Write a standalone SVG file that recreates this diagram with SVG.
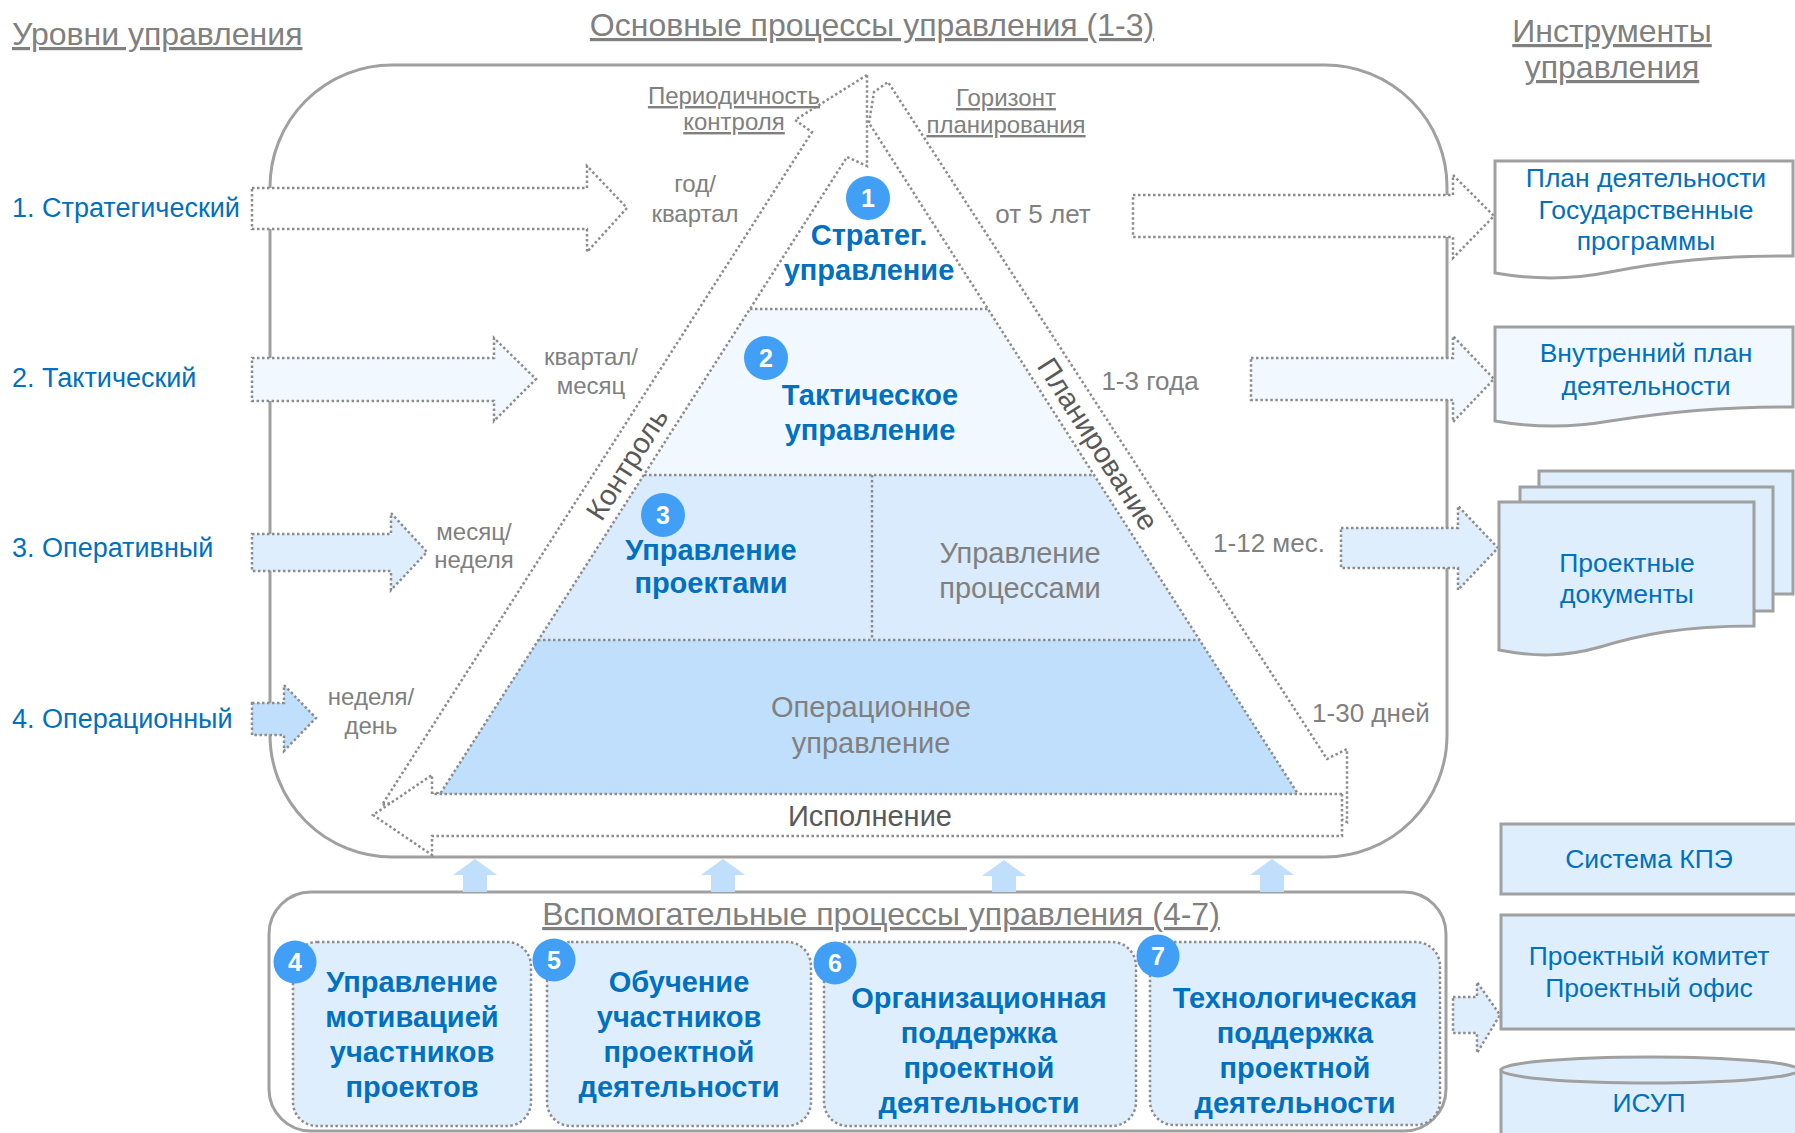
<svg xmlns="http://www.w3.org/2000/svg" width="1795" height="1133" viewBox="0 0 1795 1133">
<style>
  text{font-family:"Liberation Sans",Arial,sans-serif}
  .title{font-size:32px;fill:#808080;text-decoration:underline}
  .sub{font-size:24px;fill:#808080;text-anchor:middle;text-decoration:underline}
  .lvl{font-size:27px;fill:#0070c0}
  .per{font-size:24px;fill:#808080;text-anchor:middle}
  .dur{font-size:26px;fill:#808080;text-anchor:middle}
  .bb{font-size:29px;font-weight:bold;fill:#0070c0;text-anchor:middle}
  .gr{font-size:29px;fill:#808080;text-anchor:middle}
  .dk{font-size:29px;fill:#595959;text-anchor:middle}
  .blue{font-size:26.5px;fill:#0070c0;text-anchor:middle}
  .num{font-size:25px;font-weight:bold;fill:#ffffff;text-anchor:middle}
  .dot{stroke:#8c8c8c;stroke-width:2.5;stroke-dasharray:2.5 2.5}
  .frame{fill:none;stroke:#a0a0a0;stroke-width:3}
  .doc{stroke:#a0a0a0;stroke-width:3}
  .badge{fill:#41a0f5}
  .up{fill:#bfdffc}
  .w{fill:#ffffff}
  .c1{fill:#f2f8ff}
  .c2{fill:#deeefd}
  .c3{fill:#c0dffc}
</style>

<!-- outer frames -->
<g id="main-frame"><rect class="frame" x="270" y="65" width="1177" height="792" rx="122"/></g>
<g id="aux-frame"><rect class="frame" x="269" y="892" width="1177" height="239" rx="42"/></g>

<!-- pyramid -->
<g id="pyramid">
  <polygon class="w" points="869,123 988,309 750,309"/>
  <polygon class="c1" points="750,309 988,309 1094,475 644,475"/>
  <polygon fill="#d9ebfd" points="644,475 1094,475 1200,640 538,640"/>
  <polygon class="c3" points="538,640 1200,640 1298,794 440,794"/>
  <line class="dot" x1="750" y1="309" x2="988" y2="309"/>
  <line class="dot" x1="644" y1="475" x2="1094" y2="475"/>
  <line class="dot" x1="538" y1="640" x2="1200" y2="640"/>
  <line class="dot" x1="872" y1="475" x2="872" y2="640"/>
</g>

<!-- cycle arrows around the pyramid -->
<g id="connectors">
  <polygon id="control-arrow" class="w dot" points="867,75 795,120 812,132 382,805 437,793 440,794 847,157 867,166"/>
  <polygon id="planning-arrow" class="w dot" points="869,123 874,92 888,82 1327,759 1347,749 1347,822 1305,802 1298,794"/>
  <polygon id="execution-arrow" class="w dot" points="1342,794 432,794 432,775 373,815 432,855 432,836 1342,836"/>

  <!-- level arrows (left) -->
  <polygon class="w dot" points="252,188 587,188 587,166 627,208 587,252 587,229 252,229"/>
  <polygon class="c1 dot" points="252,358 494,358 494,338 536,379 494,421 494,401 252,401"/>
  <polygon class="c2 dot" points="252,534 391,534 391,513 427,552 391,590 391,571 252,571"/>
  <polygon class="c3 dot" points="252,703 284,703 284,685 316,718 284,751 284,735 252,735"/>

  <!-- tool arrows (right) -->
  <polygon class="w dot" points="1133,195 1453,195 1453,175 1494,216 1453,258 1453,237 1133,237"/>
  <polygon class="c1 dot" points="1251,358 1453,358 1453,336 1494,379 1453,422 1453,400 1251,400"/>
  <polygon class="c2 dot" points="1341,528 1458,528 1458,506 1498,548 1458,590 1458,568 1341,568"/>
  <polygon class="c2 dot" points="1453,997 1477,997 1477,982 1500,1015 1477,1053 1477,1033 1453,1033"/>

  <!-- support arrows (up) -->
  <polygon class="up" points="475,859 497,875 487,875 487,892 463,892 463,875 453,875"/>
  <polygon class="up" points="723,859 745,875 735,875 735,892 711,892 711,875 701,875"/>
  <polygon class="up" points="1004,860 1026,876 1016,876 1016,892 992,892 992,876 982,876"/>
  <polygon class="up" points="1272,859 1294,875 1284,875 1284,892 1260,892 1260,875 1250,875"/>
</g>

<!-- titles -->
<g id="titles">
  <text class="title" x="12" y="45">Уровни управления</text>
  <text class="title" x="872" y="36" text-anchor="middle">Основные процессы управления (1-3)</text>
  <text class="title" x="1612" y="42" text-anchor="middle">Инструменты</text>
  <text class="title" x="1612" y="78" text-anchor="middle">управления</text>
  <text class="title" x="881" y="925" text-anchor="middle">Вспомогательные процессы управления (4-7)</text>
  <text class="sub" x="734" y="104">Периодичность</text>
  <text class="sub" x="734" y="130">контроля</text>
  <text class="sub" x="1006" y="106">Горизонт</text>
  <text class="sub" x="1006" y="133">планирования</text>
</g>

<!-- management levels -->
<g id="levels">
  <text class="lvl" x="12" y="217">1. Стратегический</text>
  <text class="lvl" x="12" y="387">2. Тактический</text>
  <text class="lvl" x="12" y="557">3. Оперативный</text>
  <text class="lvl" x="12" y="728">4. Операционный</text>
</g>

<!-- control periods -->
<g id="periods">
  <text class="per" x="695" y="192">год/</text>
  <text class="per" x="695" y="222">квартал</text>
  <text class="per" x="591" y="365">квартал/</text>
  <text class="per" x="591" y="394">месяц</text>
  <text class="per" x="474" y="540">месяц/</text>
  <text class="per" x="474" y="568">неделя</text>
  <text class="per" x="371" y="705">неделя/</text>
  <text class="per" x="371" y="734">день</text>
</g>

<!-- planning horizons -->
<g id="horizons">
  <text class="dur" x="1043" y="223">от 5 лет</text>
  <text class="dur" x="1150" y="390">1-3 года</text>
  <text class="dur" x="1269" y="552">1-12 мес.</text>
  <text class="dur" x="1371" y="722">1-30 дней</text>
</g>

<!-- pyramid labels -->
<g id="node-1">
  <circle class="badge" cx="868" cy="198" r="22"/>
  <text class="num" x="868" y="207">1</text>
  <text class="bb" x="869" y="245">Стратег.</text>
  <text class="bb" x="869" y="280">управление</text>
</g>
<g id="node-2">
  <circle class="badge" cx="766" cy="358" r="22"/>
  <text class="num" x="766" y="367">2</text>
  <text class="bb" x="870" y="405">Тактическое</text>
  <text class="bb" x="870" y="440">управление</text>
</g>
<g id="node-3">
  <circle class="badge" cx="663" cy="515" r="22"/>
  <text class="num" x="663" y="524">3</text>
  <text class="bb" x="711" y="560">Управление</text>
  <text class="bb" x="711" y="593">проектами</text>
</g>
<g id="node-processes">
  <text class="gr" x="1020" y="563">Управление</text>
  <text class="gr" x="1020" y="598">процессами</text>
</g>
<g id="node-operational">
  <text class="gr" x="871" y="717">Операционное</text>
  <text class="gr" x="871" y="753">управление</text>
</g>
<g id="cycle-labels">
  <text class="dk" transform="translate(627,464) rotate(-57.4)" y="10">Контроль</text>
  <text class="dk" transform="translate(1098,444) rotate(57.4)" y="10">Планирование</text>
  <text class="dk" x="870" y="826">Исполнение</text>
</g>

<!-- management tools -->
<g id="tool-plan">
  <path class="doc" fill="#ffffff" d="M1495,161 H1793 V256 C1720,255 1660,262 1610,272 C1570,280 1535,280 1495,273 Z"/>
  <text class="blue" x="1646" y="187">План деятельности</text>
  <text class="blue" x="1646" y="219">Государственные</text>
  <text class="blue" x="1646" y="250">программы</text>
</g>
<g id="tool-internal">
  <path class="doc" fill="#f2f8ff" d="M1495,327 H1793 V407 C1720,406 1660,413 1610,421 C1570,428 1535,428 1495,421 Z"/>
  <text class="blue" x="1646" y="362">Внутренний план</text>
  <text class="blue" x="1646" y="395">деятельности</text>
</g>
<g id="tool-docs">
  <rect class="doc c2" x="1539" y="471" width="254" height="123"/>
  <rect class="doc c2" x="1520" y="487" width="253" height="124"/>
  <path class="doc c2" d="M1499,502 H1754 V626 C1680,626 1640,635 1600,647 C1565,657 1535,657 1499,650 Z"/>
  <text class="blue" x="1627" y="572">Проектные</text>
  <text class="blue" x="1627" y="603">документы</text>
</g>
<g id="tool-kpe">
  <rect class="doc c2" x="1501" y="824" width="300" height="70"/>
  <text class="blue" x="1649" y="868">Система КПЭ</text>
</g>
<g id="tool-committee">
  <rect class="doc c2" x="1501" y="915" width="300" height="114"/>
  <text class="blue" x="1649" y="965">Проектный комитет</text>
  <text class="blue" x="1649" y="997">Проектный офис</text>
</g>
<g id="tool-isup">
  <path class="doc c2" d="M1501,1070 V1140 H1800 V1070 Z"/>
  <ellipse class="doc c2" cx="1650" cy="1070" rx="149" ry="13"/>
  <text class="blue" x="1649" y="1112">ИСУП</text>
</g>

<!-- support processes -->
<g id="node-4">
  <rect class="c2 dot" x="293" y="942" width="238" height="184" rx="24"/>
  <circle class="badge" cx="295" cy="962" r="21.5"/>
  <text class="num" x="295" y="971">4</text>
  <text class="bb" x="412" y="992">Управление</text>
  <text class="bb" x="412" y="1027">мотивацией</text>
  <text class="bb" x="412" y="1062">участников</text>
  <text class="bb" x="412" y="1097">проектов</text>
</g>
<g id="node-5">
  <rect class="c2 dot" x="547" y="942" width="264" height="184" rx="24"/>
  <circle class="badge" cx="554" cy="960" r="21.5"/>
  <text class="num" x="554" y="969">5</text>
  <text class="bb" x="679" y="992">Обучение</text>
  <text class="bb" x="679" y="1027">участников</text>
  <text class="bb" x="679" y="1062">проектной</text>
  <text class="bb" x="679" y="1097">деятельности</text>
</g>
<g id="node-6">
  <rect class="c2 dot" x="824" y="942" width="312" height="184" rx="24"/>
  <circle class="badge" cx="835" cy="963" r="21.5"/>
  <text class="num" x="835" y="972">6</text>
  <text class="bb" x="979" y="1008">Организационная</text>
  <text class="bb" x="979" y="1043">поддержка</text>
  <text class="bb" x="979" y="1078">проектной</text>
  <text class="bb" x="979" y="1113">деятельности</text>
</g>
<g id="node-7">
  <rect class="c2 dot" x="1150" y="942" width="290" height="183" rx="24"/>
  <circle class="badge" cx="1158" cy="956" r="21.5"/>
  <text class="num" x="1158" y="965">7</text>
  <text class="bb" x="1295" y="1008">Технологическая</text>
  <text class="bb" x="1295" y="1043">поддержка</text>
  <text class="bb" x="1295" y="1078">проектной</text>
  <text class="bb" x="1295" y="1113">деятельности</text>
</g>
</svg>
